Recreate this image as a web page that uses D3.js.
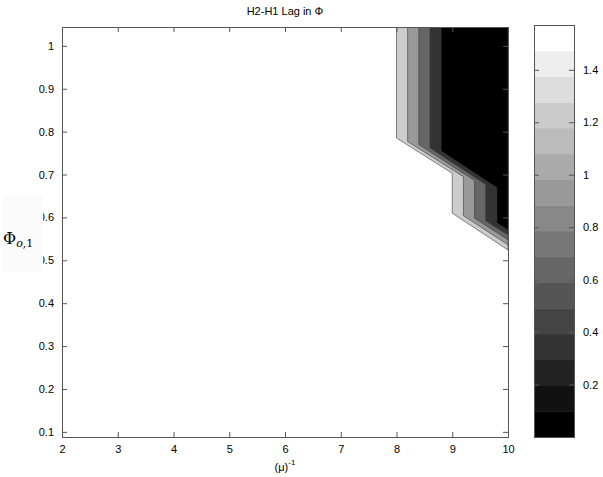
<!DOCTYPE html>
<html lang="en">
<head>
    <meta charset="UTF-8">
    <title>H2-H1 Lag in Phi</title>
    <script src="https://d3js.org/d3.v7.min.js"></script>
    <style>
        body {
            margin: 0;
            padding: 0;
            background: #fff;
        }
        svg text {
            font-family: Arial, "Liberation Sans", sans-serif;
            font-size: 11px;
            fill: #000;
        }
    </style>
</head>
<body>
    <svg id="chart" width="603" height="477"></svg>

    <script>
        // axis ticks
        const xTicks = [2, 3, 4, 5, 6, 7, 8, 9, 10];
        const yTicks = [0.1, 0.2, 0.3, 0.4, 0.5, 0.6, 0.7, 0.8, 0.9, 1];
        const cbTicks = [0.2, 0.4, 0.6, 0.8, 1, 1.2, 1.4];

        // contour levels (first one is the background level)
        const levels = [1.5, 1.2, 0.9, 0.6, 0.3, 0];

        // contour boundaries, one entry per level 1.2 ... 0
        const topX = [8.0, 8.2, 8.4, 8.6, 8.8];
        const midX = [9.0, 9.2, 9.4, 9.6, 9.8];
        const kneeY1 = [0.785, 0.777, 0.770, 0.762, 0.755];
        const kneeY2 = [0.703, 0.695, 0.686, 0.677, 0.669];
        const kneeY3 = [0.610, 0.604, 0.598, 0.592, 0.587];
        const edgeY = [0.524, 0.536, 0.548, 0.559, 0.571];

        const cMax = 1.5708;

        const svg = d3.select("#chart");

        const plotL = 62, plotR = 508, plotT = 27, plotB = 437;
        const cbL = 534, cbR = 574, cbT = 25;

        const x = d3.scaleLinear().domain([2, 10]).range([plotL, plotR]);
        const y = d3.scaleLinear().domain([0.088, 1.044]).range([plotB, plotT]);
        const yMax = y.domain()[1];

        // gray(16) colormap
        const grays = d3.range(16).map(i => d3.rgb(i * 17, i * 17, i * 17).formatHex());
        const color = d3.scaleQuantize().domain([0, cMax]).range(grays);

        // plot area
        svg.append("clipPath").attr("id", "clip")
            .append("rect")
            .attr("x", plotL).attr("y", plotT)
            .attr("width", plotR - plotL).attr("height", plotB - plotT);

        const plot = svg.append("g").attr("clip-path", "url(#clip)");

        plot.append("rect")
            .attr("x", plotL).attr("y", plotT)
            .attr("width", plotR - plotL).attr("height", plotB - plotT)
            .attr("fill", color(levels[0]));

        const polys = topX.map((tx, i) => ({
            level: levels[i + 1],
            pts: [
                [tx, yMax], [tx, kneeY1[i]], [midX[i], kneeY2[i]],
                [midX[i], kneeY3[i]], [10, edgeY[i]], [10, yMax]
            ]
        }));

        const line = d3.line().x(d => x(d[0])).y(d => y(d[1]));

        plot.selectAll("path.band")
            .data(polys)
            .join("path")
            .attr("class", "band")
            .attr("d", d => line(d.pts) + "Z")
            .attr("fill", d => color(d.level))
            .attr("stroke", "#3a3a3a")
            .attr("stroke-width", 0.6);

        // axes, MATLAB style: ticks inside, box all round
        const axisColor = "#555";
        const tickLen = 5;

        function styleAxis(g) {
            g.select(".domain").remove();
            g.selectAll(".tick line").attr("stroke", axisColor);
            g.selectAll(".tick text").style("font-size", "11px");
        }

        svg.append("g")
            .attr("transform", `translate(0,${plotB})`)
            .call(d3.axisBottom(x).tickValues(xTicks).tickFormat(d3.format("d"))
                .tickSizeInner(-tickLen).tickSizeOuter(0).tickPadding(8))
            .call(styleAxis);

        svg.append("g")
            .attr("transform", `translate(0,${plotT})`)
            .call(d3.axisTop(x).tickValues(xTicks).tickFormat("")
                .tickSizeInner(-tickLen).tickSizeOuter(0))
            .call(styleAxis);

        svg.append("g")
            .attr("transform", `translate(${plotL},0)`)
            .call(d3.axisLeft(y).tickValues(yTicks).tickFormat(d3.format("~g"))
                .tickSizeInner(-tickLen).tickSizeOuter(0).tickPadding(8))
            .call(styleAxis);

        svg.append("g")
            .attr("transform", `translate(${plotR},0)`)
            .call(d3.axisRight(y).tickValues(yTicks).tickFormat("")
                .tickSizeInner(-tickLen).tickSizeOuter(0))
            .call(styleAxis);

        svg.append("rect")
            .attr("x", plotL + 0.5).attr("y", plotT + 0.5)
            .attr("width", plotR - plotL).attr("height", plotB - plotT)
            .attr("fill", "none")
            .attr("stroke", axisColor);

        // title
        svg.append("text")
            .attr("x", (plotL + plotR) / 2)
            .attr("y", 15)
            .attr("text-anchor", "middle")
            .text("H2-H1 Lag in \u03A6");

        // x label
        const xl = svg.append("text")
            .attr("x", (plotL + plotR) / 2)
            .attr("y", 471)
            .attr("text-anchor", "middle");
        xl.append("tspan").text("(\u03BC)");
        xl.append("tspan").attr("dy", -6).style("font-size", "8px").text("-1");

        // y label
        svg.append("rect")
            .attr("x", 3).attr("y", 196)
            .attr("width", 40).attr("height", 76)
            .attr("fill", "#fbfbfb");

        const yl = svg.append("text")
            .attr("x", 3)
            .attr("y", 244)
            .style("font-family", "'DejaVu Serif', 'Liberation Serif', serif");
        yl.append("tspan").style("font-size", "16px").text("\u03A6");
        yl.append("tspan").attr("dy", 3).style("font-size", "11px")
            .style("font-style", "italic").text("o");
        yl.append("tspan").style("font-size", "11px").text(",1");

        // colorbar
        const cy = d3.scaleLinear().domain([0, cMax]).range([plotB, cbT]);
        const step = cMax / grays.length;

        svg.append("g")
            .selectAll("rect")
            .data(grays)
            .join("rect")
            .attr("x", cbL)
            .attr("y", (d, i) => cy((i + 1) * step))
            .attr("width", cbR - cbL)
            .attr("height", (d, i) => cy(i * step) - cy((i + 1) * step) + 0.5)
            .attr("fill", d => d);

        svg.append("g")
            .attr("transform", `translate(${cbR},0)`)
            .call(d3.axisRight(cy).tickValues(cbTicks).tickFormat(d3.format("~g"))
                .tickSizeInner(-tickLen).tickSizeOuter(0).tickPadding(9))
            .call(styleAxis);

        svg.append("g")
            .attr("transform", `translate(${cbL},0)`)
            .call(d3.axisLeft(cy).tickValues(cbTicks).tickFormat("")
                .tickSizeInner(-tickLen).tickSizeOuter(0))
            .call(styleAxis);

        svg.append("rect")
            .attr("x", cbL + 0.5).attr("y", cbT + 0.5)
            .attr("width", cbR - cbL).attr("height", plotB - cbT)
            .attr("fill", "none")
            .attr("stroke", axisColor);
    </script>
</body>
</html>
